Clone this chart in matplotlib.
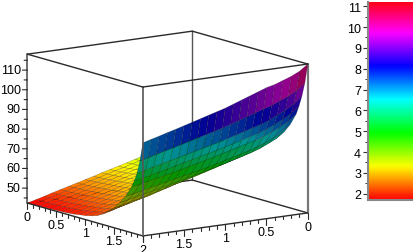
import numpy as np
import matplotlib
matplotlib.use("Agg")
import matplotlib.pyplot as plt

plt.rcParams['font.family'] = ['Liberation Sans', 'DejaVu Sans']

# grid of the surface
x_vals = [0.0, 0.1, 0.2, 0.3, 0.4, 0.5, 0.6, 0.7, 0.8, 0.9, 1.0, 1.1, 1.2, 1.3, 1.4, 1.5, 1.6, 1.7, 1.8, 1.9, 2.0]
y_vals = [0.0, 0.1, 0.2, 0.3, 0.4, 0.5, 0.6, 0.7, 0.8, 0.9, 1.0, 1.1, 1.2, 1.3, 1.4, 1.5, 1.6, 1.7, 1.8, 1.85, 1.9, 1.95, 2.0]

# one row per y value
z_vals = [
    [64.8, 63.7, 62.6, 61.4, 60.3, 59.2, 58.1, 57.0, 55.8, 54.7, 53.6, 52.5, 51.3, 50.2, 49.1, 48.0, 46.9, 45.8, 44.6, 43.5, 42.4],
    [65.2, 64.0, 62.9, 61.7, 60.6, 59.5, 58.4, 57.2, 56.1, 54.9, 53.8, 52.7, 51.5, 50.4, 49.3, 48.2, 47.0, 45.9, 44.7, 43.6, 42.4],
    [65.5, 64.3, 63.2, 62.0, 60.9, 59.7, 58.6, 57.4, 56.3, 55.1, 54.0, 52.9, 51.7, 50.6, 49.4, 48.3, 47.1, 46.0, 44.8, 43.7, 42.5],
    [66.0, 64.8, 63.6, 62.4, 61.3, 60.1, 58.9, 57.8, 56.6, 55.5, 54.3, 53.2, 52.0, 50.9, 49.7, 48.5, 47.3, 46.2, 45.0, 43.8, 42.6],
    [66.4, 65.2, 64.0, 62.8, 61.6, 60.4, 59.2, 58.1, 56.9, 55.8, 54.6, 53.4, 52.2, 51.1, 49.9, 48.7, 47.5, 46.3, 45.1, 43.9, 42.7],
    [67.0, 65.8, 64.6, 63.3, 62.1, 60.9, 59.7, 58.5, 57.3, 56.2, 55.0, 53.8, 52.6, 51.4, 50.2, 49.0, 47.8, 46.5, 45.3, 44.1, 42.9],
    [67.6, 66.3, 65.1, 63.8, 62.6, 61.3, 60.1, 58.9, 57.7, 56.5, 55.3, 54.1, 52.9, 51.6, 50.4, 49.2, 48.0, 46.7, 45.5, 44.2, 43.0],
    [68.3, 67.0, 65.8, 64.4, 63.2, 61.9, 60.7, 59.4, 58.2, 57.0, 55.8, 54.5, 53.3, 52.0, 50.8, 49.6, 48.3, 47.0, 45.8, 44.5, 43.2],
    [69.0, 67.7, 66.4, 65.0, 63.7, 62.4, 61.2, 59.9, 58.7, 57.4, 56.2, 54.9, 53.7, 52.4, 51.2, 49.9, 48.6, 47.3, 46.1, 44.8, 43.5],
    [69.8, 68.5, 67.1, 65.7, 64.4, 63.0, 61.8, 60.5, 59.3, 58.0, 56.8, 55.5, 54.2, 52.9, 51.7, 50.4, 49.1, 47.8, 46.6, 45.3, 44.0],
    [70.6, 69.2, 67.8, 66.4, 65.0, 63.6, 62.3, 61.1, 59.8, 58.6, 57.3, 56.0, 54.7, 53.4, 52.1, 50.8, 49.5, 48.2, 47.0, 45.7, 44.4],
    [71.6, 70.2, 68.7, 67.3, 65.8, 64.4, 63.1, 61.8, 60.6, 59.3, 58.0, 56.7, 55.4, 54.0, 52.7, 51.4, 50.1, 48.9, 47.6, 46.4, 45.1],
    [72.8, 71.3, 69.8, 68.3, 66.8, 65.3, 64.0, 62.7, 61.5, 60.2, 58.9, 57.6, 56.2, 54.9, 53.5, 52.2, 51.0, 49.7, 48.5, 47.2, 46.0],
    [74.2, 72.6, 71.1, 69.5, 68.0, 66.4, 65.1, 63.8, 62.6, 61.3, 60.0, 58.7, 57.3, 56.0, 54.6, 53.3, 52.2, 51.0, 49.9, 48.7, 47.6],
    [75.8, 73.5, 72.0, 70.4, 68.9, 67.6, 66.3, 65.1, 63.8, 62.6, 61.3, 60.0, 58.8, 57.5, 56.3, 55.0, 54.0, 53.0, 52.0, 51.0, 50.0],
    [77.8, 75.2, 73.4, 71.8, 70.3, 69.0, 67.8, 66.6, 65.4, 64.2, 63.0, 61.9, 60.8, 59.7, 58.6, 57.5, 56.5, 55.5, 54.5, 53.5, 52.5],
    [80.5, 77.5, 75.5, 73.6, 72.2, 71.0, 69.9, 68.8, 67.7, 66.6, 65.5, 64.5, 63.5, 62.5, 61.5, 60.5, 59.6, 58.7, 57.8, 56.9, 56.0],
    [85.0, 81.8, 79.5, 77.5, 75.9, 74.5, 73.4, 72.3, 71.2, 70.1, 69.0, 68.1, 67.2, 66.3, 65.4, 64.5, 63.6, 62.7, 61.8, 60.9, 60.0],
    [91.0, 87.8, 85.5, 83.5, 81.9, 80.5, 79.4, 78.3, 77.2, 76.1, 75.0, 74.0, 73.0, 72.0, 71.0, 70.0, 69.1, 68.2, 67.3, 66.4, 65.5],
    [95.5, 92.2, 89.8, 87.8, 86.0, 84.5, 83.4, 82.2, 81.0, 79.9, 78.8, 77.8, 76.8, 75.8, 74.8, 73.8, 72.8, 71.9, 70.9, 70.0, 69.0],
    [101.0, 97.5, 95.0, 93.0, 91.0, 89.5, 88.3, 87.1, 85.9, 84.7, 83.5, 82.5, 81.5, 80.5, 79.5, 78.5, 77.5, 76.5, 75.5, 74.5, 73.5],
    [108.0, 104.8, 102.5, 100.8, 99.0, 97.8, 96.4, 95.0, 93.7, 92.3, 91.0, 89.9, 88.8, 87.7, 86.6, 85.5, 84.4, 83.4, 82.3, 81.2, 80.1],
    [118.0, 115.0, 113.0, 111.5, 110.0, 109.0, 107.5, 106.0, 104.5, 103.0, 101.5, 100.3, 99.1, 97.9, 96.7, 95.5, 94.3, 93.2, 92.0, 90.9, 89.7],
]

z_low = 42.4
z_high = 118.1
z_ticks = [50, 60, 70, 80, 90, 100, 110]
z_minor = [45, 55, 65, 75, 85, 95, 105, 115]
xy_ticks = [0, 0.5, 1, 1.5, 2]
xy_tick_labels = ['0', '0.5', '1', '1.5', '2']
xy_minor = [0.1, 0.2, 0.3, 0.4, 0.6, 0.7, 0.8, 0.9, 1.1, 1.2, 1.3, 1.4, 1.6, 1.7, 1.8, 1.9]

bar_low = 1.7
bar_high = 11.2
bar_ticks = [2, 3, 4, 5, 6, 7, 8, 9, 10, 11]
bar_minor = [2.5, 3.5, 4.5, 5.5, 6.5, 7.5, 8.5, 9.5, 10.5]

elev, azim = 11.5, 55
z_aspect = 0.755

W, H = 413, 253
fig = plt.figure(figsize=(W / 100, H / 100), dpi=100, facecolor='white')

side = 300
ax = fig.add_axes([(167.5 - 4 - side / 2) / W, (H - 134.6 - 4 - side / 2) / H, side / W, side / H],
                  projection='3d', computed_zorder=False)
ax.set_proj_type('ortho')
ax.view_init(elev=elev, azim=azim)
ax.set_box_aspect((1, 1, z_aspect), zoom=1.044)
ax.set_xlim(0, 2)
ax.set_ylim(0, 2)
ax.set_zlim(z_low, z_high)
ax.set_axis_off()

X, Y = np.meshgrid(x_vals, y_vals)
Z = np.array(z_vals)
# each cell takes the colour of its mean height
cell = (Z[:-1, :-1] + Z[1:, :-1] + Z[:-1, 1:] + Z[1:, 1:]) / 4
colors = plt.get_cmap('hsv')((cell - z_low) / (z_high - z_low))

# faces seen from behind (the steep wall) come out darker
z_scale = (z_aspect / (z_high - z_low)) / 0.5
zx = np.diff(Z, axis=1)[:-1, :] / np.diff(x_vals) * z_scale
zy = np.diff(Z, axis=0)[:, :-1] / np.diff(y_vals)[:, None] * z_scale
el, az = np.radians(elev), np.radians(azim)
facing = -zx * np.cos(el) * np.cos(az) - zy * np.cos(el) * np.sin(az) + np.sin(el)
bright = np.clip(0.78 + 1.5 * facing, 0.58, 1.0)
colors[:, :, :3] *= bright[:, :, None]

surf = ax.plot_surface(X, Y, Z, facecolors=colors, rstride=1, cstride=1, shade=False, zorder=2)
surf.set_edgecolor((0, 0, 0, 0.35))
surf.set_linewidth(0.35)

line_col = '#2a2a2a'


def edge(xs, ys, zs, z=1, col=line_col, lw=1.0):
    ax.plot(xs, ys, zs, color=col, lw=lw, zorder=z, solid_capstyle='round')


# box, back edges go behind the surface
edge([0, 0], [0, 0], [z_low, z_high], z=1, col='#555555')
edge([0, 2], [0, 0], [z_low, z_low], z=1)
edge([0, 0], [0, 2], [z_low, z_low], z=1)
edge([0, 2], [2, 2], [z_low, z_low], z=3)
edge([2, 2], [0, 2], [z_low, z_low], z=3)
edge([2, 2], [0, 0], [z_low, z_high], z=3, col='#555555', lw=1.2)
edge([2, 2], [2, 2], [z_low, z_high], z=3, col='#555555', lw=1.2)
edge([0, 0], [2, 2], [z_low, z_high], z=1, col='#777777', lw=1.6)
edge([0, 2], [0, 0], [z_high, z_high], z=3)
edge([0, 0], [0, 2], [z_high, z_high], z=3)
edge([0, 2], [2, 2], [z_high, z_high], z=3)
edge([2, 2], [0, 2], [z_high, z_high], z=3)

# ticks under the two floor axes
for t in xy_minor:
    edge([2, 2], [t, t], [z_low, z_low - 1.5], z=3, lw=0.8)
    edge([t, t], [2, 2], [z_low, z_low - 1.5], z=3, lw=0.8)
for t, lab in zip(xy_ticks, xy_tick_labels):
    edge([2, 2], [t, t], [z_low, z_low - 3], z=3, lw=0.8)
    edge([t, t], [2, 2], [z_low, z_low - 3], z=3, lw=0.8)
    ax.text(2, t, z_low - 7, lab, ha='center', va='center', fontsize=9, zorder=4)
    if t != 2:
        ax.text(t, 2, z_low - 7, lab, ha='center', va='center', fontsize=9, zorder=4)

# ticks on the height axis point to the left
for t in z_minor:
    edge([2, 2.04], [0, 0], [t, t + 0.24], z=3, lw=0.8)
for t in z_ticks:
    edge([2, 2.06], [0, 0], [t, t + 0.36], z=3, lw=0.8)
    ax.text(2.08, 0, t + 0.5, str(t), ha='right', va='center', fontsize=9, zorder=4)

# colour bar
cax = fig.add_axes([368 / W, (H - 201) / H, 45 / W, 198 / H])
cax.imshow(np.linspace(bar_high, bar_low, 256)[:, None], cmap='hsv', aspect='auto',
           extent=[0, 1, bar_low, bar_high])
cax.set_xticks([])
cax.set_yticks(bar_ticks)
cax.set_yticks(bar_minor, minor=True)
cax.tick_params(axis='y', which='major', length=3.5, width=0.8, pad=1.5, labelsize=9, color='#333333')
cax.tick_params(axis='y', which='minor', length=2, width=0.7, color='#333333')
for name in ['top', 'right']:
    cax.spines[name].set_visible(False)
for name in ['left', 'bottom']:
    cax.spines[name].set_color('#888888')
    cax.spines[name].set_linewidth(1.5)

fig.savefig('out.png', dpi=100)
